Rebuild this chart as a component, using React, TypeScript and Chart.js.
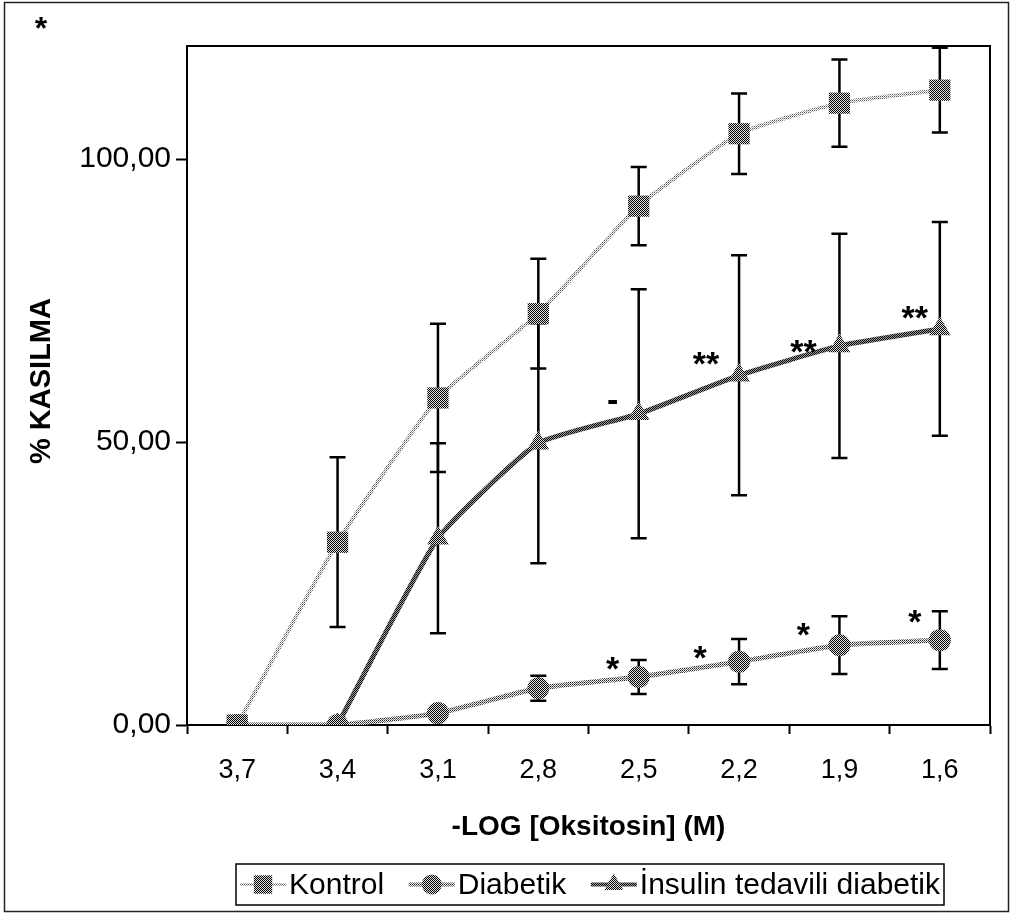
import React, { useEffect, useRef } from "react";
import { Chart, registerables } from "chart.js";

Chart.register(...registerables);

const FONT = "'Liberation Sans', Arial, sans-serif";

// ---- data ----
const categories = ["3,7", "3,4", "3,1", "2,8", "2,5", "2,2", "1,9", "1,6"];
const seriesNames = ["Kontrol", "Diabetik", "İnsulin tedavili diabetik"];
const kontrolMean = [0, 32.3, 57.8, 72.7, 91.7, 104.5, 109.9, 112.2];
const kontrolSem = [0, 15.0, 13.1, 9.7, 6.9, 7.1, 7.7, 7.5];
const diabetikMean = [0, 0, 2.1, 6.5, 8.5, 11.2, 14.1, 15.0];
const diabetikSem = [0, 0, 0, 2.2, 3.0, 4.0, 5.1, 5.1];
const insulinMean: (number | null)[] = [null, 0, 33.0, 49.8, 55.0, 61.8, 67.0, 70.0];
const insulinSem = [0, 0, 16.8, 21.2, 22.0, 21.2, 19.8, 18.9];
const yMin = 0;
const yMax = 120;
const yStep = 50;
const xTitle = "-LOG [Oksitosin] (M)";
const yTitle = "% KASILMA";
const cornerMark = "*";

// significance marks: text, category index, y value
const markText = ["*", "*", "*", "*", "-", "**", "**", "**"];
const markCat = [4, 5, 6, 7, 4, 5, 6, 7];
const markValue = [11.3, 13.4, 17.3, 19.6, 57.2, 65.3, 67.4, 73.4];
// horizontal shift of each mark from its category centre (layout)
const markDx = [-26, -39, -36, -25, -26, -33, -36, -25];

const W = 1011;
const H = 917;

function makePattern(cells: string[][]): CanvasPattern | string {
  const c = document.createElement("canvas");
  c.width = cells[0].length;
  c.height = cells.length;
  const g = c.getContext("2d");
  if (!g) return "#888";
  cells.forEach((row, y) =>
    row.forEach((col, x) => {
      g.fillStyle = col;
      g.fillRect(x, y, 1, 1);
    })
  );
  const p = g.createPattern(c, "repeat");
  return p || "#888";
}

export default function App() {
  const ref = useRef<HTMLCanvasElement | null>(null);

  useEffect(() => {
    const canvas = ref.current;
    if (!canvas) return;

    const markerFill = makePattern([
      ["#000", "#ddd"],
      ["#ddd", "#000"],
    ]);
    const kontrolLine = makePattern([
      ["#555", "#fff"],
      ["#fff", "#aaa"],
    ]);
    const diabetikLine = makePattern([
      ["#222", "#eee"],
      ["#eee", "#666"],
    ]);
    const insulinLine = makePattern([
      ["#000", "#999"],
      ["#999", "#111"],
    ]);

    const sems = [kontrolSem, diabetikSem, insulinSem];
    const means = [kontrolMean, diabetikMean, insulinMean];

    const errorBars = {
      id: "errorBars",
      beforeDatasetsDraw(chart: any) {
        const ctx = chart.ctx;
        const xs = chart.scales.x;
        const ys = chart.scales.y;
        const a = chart.chartArea;
        ctx.save();
        ctx.beginPath();
        ctx.rect(a.left, a.top - 1, a.right - a.left, a.bottom - a.top + 1);
        ctx.clip();
        ctx.strokeStyle = "#000";
        ctx.lineWidth = 2.5;
        for (let d = 0; d < means.length; d++) {
          for (let i = 0; i < categories.length; i++) {
            const m = means[d][i];
            const s = sems[d][i];
            if (m == null || !s) continue;
            const x = xs.getPixelForValue(i);
            const yt = ys.getPixelForValue(m + s);
            const yb = ys.getPixelForValue(m - s);
            ctx.beginPath();
            ctx.moveTo(x, yt);
            ctx.lineTo(x, yb);
            ctx.moveTo(x - 8, yt);
            ctx.lineTo(x + 8, yt);
            ctx.moveTo(x - 8, yb);
            ctx.lineTo(x + 8, yb);
            ctx.stroke();
          }
        }
        ctx.restore();
      },
    };

    const decor = {
      id: "decor",
      afterDraw(chart: any) {
        const ctx = chart.ctx;
        const a = chart.chartArea;
        const xs = chart.scales.x;
        const ys = chart.scales.y;
        ctx.save();
        // outer frame
        ctx.strokeStyle = "#222";
        ctx.lineWidth = 1.5;
        ctx.strokeRect(4.5, 2.5, W - 7, H - 8);
        // plot frame (top & right)
        ctx.strokeStyle = "#000";
        ctx.lineWidth = 2;
        ctx.beginPath();
        ctx.moveTo(a.left, a.top);
        ctx.lineTo(a.right, a.top);
        ctx.lineTo(a.right, a.bottom);
        ctx.stroke();

        ctx.fillStyle = "#000";
        // axis titles
        ctx.font = `bold 28px ${FONT}`;
        ctx.textAlign = "center";
        ctx.textBaseline = "middle";
        ctx.fillText(xTitle, (a.left + a.right) / 2, 827);
        ctx.save();
        ctx.font = `bold 29px ${FONT}`;
        ctx.translate(42, 381);
        ctx.rotate(-Math.PI / 2);
        ctx.fillText(yTitle, 0, 0);
        ctx.restore();

        // corner asterisk
        ctx.font = `bold 32px ${FONT}`;
        ctx.textBaseline = "alphabetic";
        ctx.fillText(cornerMark, 41, 21 + 0.57 * 32);

        // significance marks
        for (let k = 0; k < markText.length; k++) {
          const x = xs.getPixelForValue(markCat[k]) + markDx[k];
          const y = ys.getPixelForValue(markValue[k]);
          const t = markText[k];
          ctx.font = `bold 34px ${FONT}`;
          if (t === "-") {
            ctx.fillText(t, x, y + 0.28 * 34);
          } else {
            ctx.fillText(t, x, y + 0.57 * 34);
          }
        }

        // legend
        const lx0 = 236, ly0 = 864, lx1 = 944, ly1 = 905;
        ctx.fillStyle = "#fff";
        ctx.fillRect(lx0, ly0, lx1 - lx0, ly1 - ly0);
        ctx.strokeStyle = "#000";
        ctx.lineWidth = 1.5;
        ctx.strokeRect(lx0, ly0, lx1 - lx0, ly1 - ly0);
        ctx.font = `30px ${FONT}`;
        ctx.textAlign = "left";
        ctx.textBaseline = "middle";
        const sampleW = 46;
        const gapAfterSample = 3;
        const widths = seriesNames.map((n) => ctx.measureText(n).width);
        const inner = lx1 - lx0 - 8;
        let used = 0;
        widths.forEach((w) => {
          used += sampleW + gapAfterSample + w;
        });
        const gapAfterText = Math.max(6, (inner - used) / (widths.length - 1));
        let x = lx0 + 4;
        const cy = (ly0 + ly1) / 2;
        const lineStyles = [kontrolLine, diabetikLine, insulinLine];
        const lineWidths = [4, 5, 5];
        const pstyles = ["rect", "circle", "triangle"];
        const pradius = [13, 10, 11];
        for (let i = 0; i < seriesNames.length; i++) {
          ctx.strokeStyle = lineStyles[i];
          ctx.lineWidth = lineWidths[i] - 1;
          ctx.beginPath();
          ctx.moveTo(x, cy);
          ctx.lineTo(x + sampleW, cy);
          ctx.stroke();
          ctx.fillStyle = markerFill;
          const mx = x + sampleW / 2;
          ctx.beginPath();
          if (pstyles[i] === "rect") {
            const s = pradius[i] * Math.SQRT1_2;
            ctx.rect(mx - s, cy - s, 2 * s, 2 * s);
          } else if (pstyles[i] === "circle") {
            ctx.arc(mx, cy, pradius[i], 0, Math.PI * 2);
          } else {
            const r = pradius[i];
            ctx.moveTo(mx, cy - r);
            ctx.lineTo(mx + r * Math.cos(Math.PI / 6), cy + r / 2);
            ctx.lineTo(mx - r * Math.cos(Math.PI / 6), cy + r / 2);
            ctx.closePath();
          }
          ctx.fill();
          x += sampleW + gapAfterSample;
          ctx.fillStyle = "#000";
          ctx.fillText(seriesNames[i], x, cy + 1);
          x += widths[i] + gapAfterText;
        }
        ctx.restore();
      },
    };

    const chart = new Chart(canvas, {
      type: "line",
      data: {
        labels: categories,
        datasets: [
          {
            label: seriesNames[0],
            data: kontrolMean,
            borderColor: kontrolLine as any,
            borderWidth: 4,
            tension: 0.15,
            pointStyle: "rect",
            pointRadius: 15,
            pointBackgroundColor: markerFill as any,
            pointBorderWidth: 0,
            pointBorderColor: "rgba(0,0,0,0)",
          },
          {
            label: seriesNames[1],
            data: diabetikMean,
            borderColor: diabetikLine as any,
            borderWidth: 5,
            tension: 0.15,
            pointStyle: "circle",
            pointRadius: 11,
            pointBackgroundColor: markerFill as any,
            pointBorderWidth: 0,
            pointBorderColor: "rgba(0,0,0,0)",
          },
          {
            label: seriesNames[2],
            data: insulinMean,
            borderColor: insulinLine as any,
            borderWidth: 5,
            tension: 0.15,
            pointStyle: "triangle",
            pointRadius: 12.5,
            pointBackgroundColor: markerFill as any,
            pointBorderWidth: 0,
            pointBorderColor: "rgba(0,0,0,0)",
          },
        ],
      },
      options: {
        responsive: false,
        animation: false,
        devicePixelRatio: 1,
        layout: { padding: { left: 0, top: 46, right: 21, bottom: 0 } },
        plugins: {
          legend: { display: false },
          tooltip: { enabled: false },
          title: { display: false },
        },
        scales: {
          x: {
            type: "category",
            offset: true,
            grid: {
              offset: true,
              drawOnChartArea: false,
              drawTicks: true,
              tickLength: 9,
              tickColor: "#000",
              tickWidth: 2,
            },
            border: { display: true, color: "#000", width: 2 },
            ticks: {
              color: "#000",
              font: { family: FONT, size: 27 },
              padding: 20,
              maxRotation: 0,
              autoSkip: false,
            },
            afterFit: (s: any) => {
              s.height = H - 725;
            },
          },
          y: {
            min: yMin,
            max: yMax,
            grid: {
              drawOnChartArea: false,
              drawTicks: true,
              tickLength: 11,
              tickColor: "#000",
              tickWidth: 2,
            },
            border: { display: true, color: "#000", width: 2 },
            ticks: {
              stepSize: yStep,
              includeBounds: false,
              color: "#000",
              font: { family: FONT, size: 30 },
              padding: 5,
              callback: (v: any) => Number(v).toFixed(2).replace(".", ","),
            },
            afterFit: (s: any) => {
              s.width = 187;
            },
          },
        },
      },
      plugins: [errorBars, decor],
    });

    return () => chart.destroy();
  }, []);

  return (
    <div style={{ position: "absolute", left: 0, top: 0, width: W, height: H, background: "#fff" }}>
      <canvas ref={ref} width={W} height={H} style={{ display: "block", width: W, height: H }} />
    </div>
  );
}
